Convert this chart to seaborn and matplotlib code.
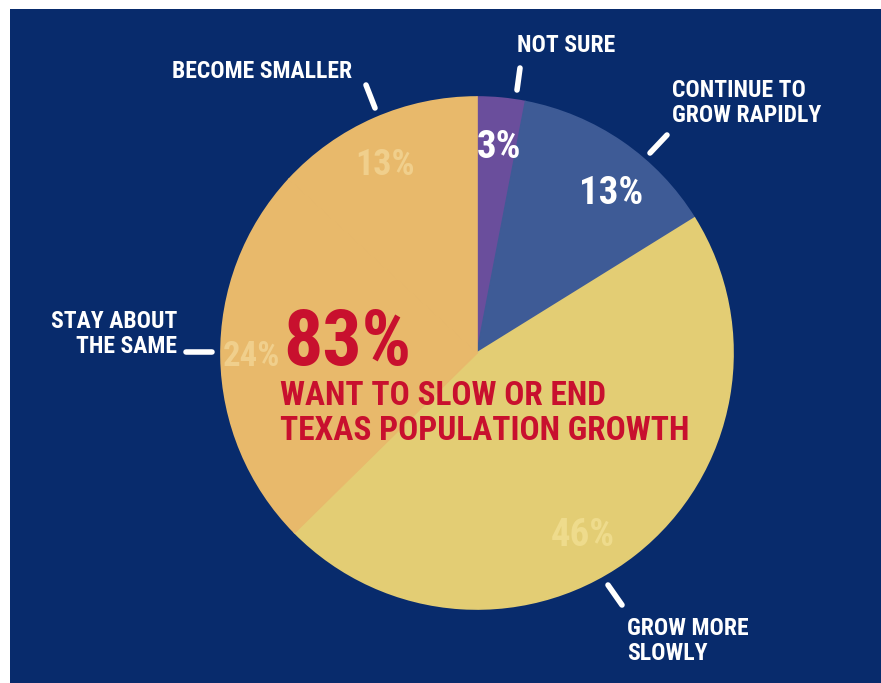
import matplotlib
matplotlib.use("Agg")
import matplotlib.pyplot as plt
import seaborn as sns
from matplotlib.patches import Rectangle

# Survey answers, clockwise from 12 o'clock
categories = ["NOT SURE", "CONTINUE TO\nGROW RAPIDLY", "GROW MORE\nSLOWLY",
              "STAY ABOUT\nTHE SAME", "BECOME SMALLER"]
shares = [3, 13, 46, 24, 13]
pct_labels = ["3%", "13%", "46%", "24%", "13%"]
headline_value = "83%"
headline_text = ["WANT TO SLOW OR END", "TEXAS POPULATION GROWTH"]

sns.set_style("white")
palette = sns.color_palette(["#6a4e9c", "#3e5b96", "#e3cd74", "#e8b96b", "#e8b96b"])

W, H = 881, 683
fig = plt.figure(figsize=(W / 100, H / 100), dpi=100, facecolor="white")
ax = fig.add_axes([0, 0, 1, 1])
ax.set_axis_off()

def Y(y):
    return H - y

NAVY = "#082b6c"
ax.add_patch(Rectangle((10, 0), W - 10, Y(9), facecolor=NAVY, edgecolor="none", zorder=0))

cx, cy, R = 477, 353, 256
wedges, _ = ax.pie(shares, colors=palette, startangle=90, counterclock=False,
                   center=(cx, Y(cy)), radius=R, normalize=True)
for w in wedges:
    w.set_edgecolor(w.get_facecolor())
    w.set_linewidth(1.2)
ax.set_xlim(0, W)
ax.set_ylim(0, H)
ax.set_aspect("equal")

COND = ["Roboto Condensed", "DejaVu Sans"]

# percentage labels inside the slices
pct_pos = [(499, 148, "white", 28), (611, 194, "white", 28),
           (583, 536, "#eedb8c", 28), (251, 357, "#f0cf8c", 25),
           (385, 165, "#f0cf8c", 26)]
for lab, (x, y, c, fs) in zip(pct_labels, pct_pos):
    ax.text(x, Y(y), lab, ha="center", va="center", color=c, fontsize=fs,
            fontweight="bold", family=COND, zorder=3)

# category labels with callout ticks
lab_pos = [(566, 45, "center"), (672, 103, "left"), (627, 641, "left"),
           (177, 334, "right"), (262, 71, "center")]
ticks = [((520, 68), (517, 90)), ((650, 153), (667, 135)),
         ((608, 585), (622, 605)), ((186, 352), (212, 352)),
         ((366, 85), (375, 108))]
for lab, (x, y, ha), ((x0, y0), (x1, y1)) in zip(categories, lab_pos, ticks):
    ax.text(x, Y(y), lab, ha=ha, va="center", color="white", fontsize=17,
            fontweight="bold", family=COND, linespacing=1.1, zorder=3)
    ax.plot([x0, x1], [Y(y0), Y(y1)], color="white", lw=4,
            solid_capstyle="round", zorder=3)

RED = "#c8102e"
ax.text(283, Y(344), headline_value, ha="left", va="center", color=RED,
        fontsize=56, fontweight="bold", family=COND, zorder=4)
ax.text(280, Y(396), headline_text[0], ha="left", va="center", color=RED,
        fontsize=24, fontweight="bold", family=COND, zorder=4)
ax.text(280, Y(431), headline_text[1], ha="left", va="center", color=RED,
        fontsize=24, fontweight="bold", family=COND, zorder=4)

fig.savefig("out.png", dpi=100, facecolor="white")
